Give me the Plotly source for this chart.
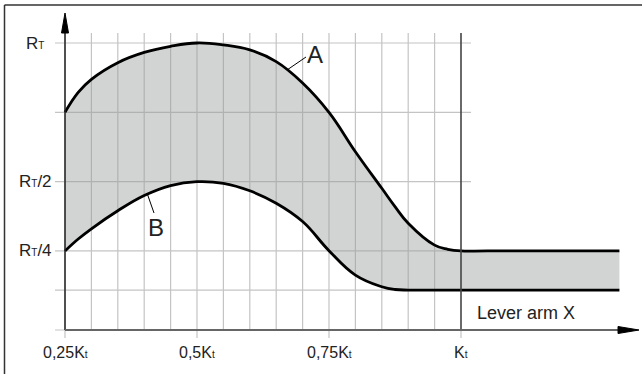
import plotly.graph_objects as go

# ---------------- data ----------------
lever_x = [0.25, 0.275, 0.30, 0.35, 0.40, 0.45, 0.50, 0.55, 0.60, 0.65, 0.70,
           0.75, 0.80, 0.85, 0.875, 0.90, 0.95, 0.975, 1.00, 1.05, 1.30]
curve_A = [0.75, 0.822, 0.869, 0.929, 0.966, 0.988, 1.0, 0.993, 0.975, 0.933, 0.856,
           0.75, 0.608, 0.476, 0.41, 0.35, 0.271, 0.256, 0.25, 0.25, 0.25]
curve_B = [0.25, 0.293, 0.330, 0.395, 0.450, 0.486, 0.5, 0.494, 0.467, 0.422, 0.356,
           0.251, 0.163, 0.121, 0.111, 0.109, 0.109, 0.109, 0.109, 0.109, 0.109]

x_tick_vals = [0.25, 0.5, 0.75, 1.0]
x_tick_text = ["0,25K", "0,5K", "0,75K", "K"]
y_tick_vals = [1.0, 0.5, 0.25]
y_tick_text = ["R", "R/2", "R/4"]
grid_x = [0.25, 0.30, 0.35, 0.40, 0.45, 0.50, 0.55, 0.60, 0.65, 0.70,
          0.75, 0.80, 0.85, 0.90, 0.95]
grid_y = [0.109, 0.25, 0.5, 0.75, 1.0]
kt_value = 1.0

# ---------------- layout geometry ----------------
W, H = 642, 374
ML, MR, MT, MB = 50, 2, 10, 34
PW, PH = W - ML - MR, H - MT - MB
XR = [0.2216, 1.3390]
YR = [-0.0711, 1.1190]


def xd(px):
    return XR[0] + (px - ML) / PW * (XR[1] - XR[0])


def yd(py):
    return YR[1] - (py - MT) / PH * (YR[1] - YR[0])


def xp(px):
    return (px - ML) / PW


def yp(py):
    return (H - MB - py) / PH


FONT = "Liberation Sans, Arial, sans-serif"
SUB = "<span style='font-size:10px'>%s</span>"

fig = go.Figure()
fig.add_trace(go.Scatter(x=lever_x, y=curve_B, mode="lines",
                         line=dict(color="black", width=2.8, shape="spline", smoothing=1.2),
                         hoverinfo="skip", showlegend=False))
fig.add_trace(go.Scatter(x=lever_x, y=curve_A, mode="lines", fill="tonexty",
                         fillcolor="rgba(150,155,155,0.43)",
                         line=dict(color="black", width=2.8, shape="spline", smoothing=1.2),
                         hoverinfo="skip", showlegend=False))

shapes = []
grid_col = "#c4c4c4"
top_y, axis_y = yd(33), yd(330)
for gx in grid_x:
    shapes.append(dict(type="line", xref="x", yref="y", x0=gx, x1=gx, y0=axis_y, y1=top_y,
                       line=dict(color=grid_col, width=1.2), layer="below"))
for gy in grid_y + [axis_y]:
    shapes.append(dict(type="line", xref="x", yref="y", x0=xd(55), x1=xd(471), y0=gy, y1=gy,
                       line=dict(color=grid_col, width=1.2), layer="below"))
for tv in x_tick_vals:
    shapes.append(dict(type="line", xref="x", yref="y", x0=tv, x1=tv, y0=yd(338), y1=axis_y,
                       line=dict(color=grid_col, width=1.2), layer="below"))
# Kt line
shapes.append(dict(type="line", xref="x", yref="y", x0=kt_value, x1=kt_value, y0=axis_y, y1=top_y,
                   line=dict(color="#444444", width=1.6), layer="above"))
# y axis
shapes.append(dict(type="line", xref="x", yref="y", x0=xd(65), x1=xd(65), y0=axis_y, y1=yd(30),
                   line=dict(color="#222222", width=1.5), layer="above"))
shapes.append(dict(type="path", xref="x", yref="y",
                   path="M %f %f L %f %f L %f %f Z" % (xd(61.5), yd(33), xd(65), yd(13), xd(68.5), yd(33)),
                   fillcolor="black", line=dict(color="black", width=1), layer="above"))
# x axis
shapes.append(dict(type="line", xref="x", yref="y", x0=xd(65), x1=xd(622), y0=axis_y, y1=axis_y,
                   line=dict(color="#666666", width=2), layer="above"))
shapes.append(dict(type="path", xref="x", yref="y",
                   path="M %f %f L %f %f L %f %f Z" % (xd(618), yd(326.5), xd(639), yd(330), xd(618), yd(333.5)),
                   fillcolor="black", line=dict(color="black", width=1), layer="above"))
# leader lines
shapes.append(dict(type="line", xref="x", yref="y", x0=xd(287), x1=xd(306), y0=yd(70), y1=yd(57),
                   line=dict(color="black", width=1), layer="above"))
shapes.append(dict(type="line", xref="x", yref="y", x0=xd(147), x1=xd(154), y0=yd(193), y1=yd(213),
                   line=dict(color="black", width=1), layer="above"))
# outer frame (top and left)
shapes.append(dict(type="line", xref="paper", yref="paper", x0=xp(4.5), x1=xp(645), y0=yp(5), y1=yp(5),
                   line=dict(color="#333333", width=1.5)))
shapes.append(dict(type="line", xref="paper", yref="paper", x0=xp(4.5), x1=xp(4.5), y0=yp(5), y1=yp(380),
                   line=dict(color="#333333", width=1.5)))

ann = []
for tv, tt in zip(x_tick_vals, x_tick_text):
    ann.append(dict(x=tv, y=yp(352), xref="x", yref="paper", text=tt + SUB % "t",
                    showarrow=False, xanchor="center", yanchor="middle",
                    font=dict(family=FONT, size=16, color="#222222")))
for tv, tt in zip(y_tick_vals, y_tick_text):
    txt = "R" + SUB % "T" + tt[1:]
    ann.append(dict(x=xp(35), y=tv, xref="paper", yref="y", text=txt,
                    showarrow=False, xanchor="center", yanchor="middle",
                    font=dict(family=FONT, size=17, color="#222222")))
ann.append(dict(x=xd(314.5), y=yd(54), xref="x", yref="y", text="A", showarrow=False,
                font=dict(family=FONT, size=24, color="#222222")))
ann.append(dict(x=xd(155.5), y=yd(227), xref="x", yref="y", text="B", showarrow=False,
                font=dict(family=FONT, size=24, color="#222222")))
ann.append(dict(x=xd(526), y=yd(312.5), xref="x", yref="y", text="Lever arm X", showarrow=False,
                font=dict(family=FONT, size=18, color="#222222")))

fig.update_layout(
    width=W, height=H, margin=dict(l=ML, r=MR, t=MT, b=MB),
    paper_bgcolor="white", plot_bgcolor="rgba(0,0,0,0)",
    xaxis=dict(range=XR, visible=False, showgrid=False, zeroline=False),
    yaxis=dict(range=YR, visible=False, showgrid=False, zeroline=False),
    shapes=shapes, annotations=ann, showlegend=False, hovermode=False,
)

fig.write_html("out.html", config={"displayModeBar": False, "staticPlot": True},
               post_script="document.body.style.margin='0px';document.body.style.overflow='hidden';")
